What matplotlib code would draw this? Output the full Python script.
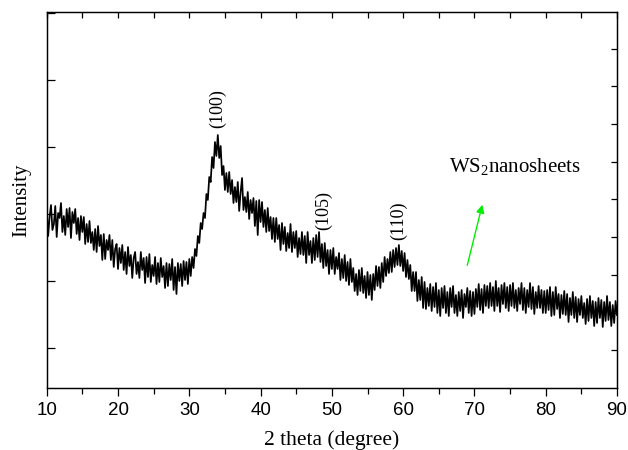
import numpy as np
import matplotlib
matplotlib.use("Agg")
import matplotlib.pyplot as plt
from matplotlib.ticker import MultipleLocator

plt.rcParams['mathtext.fontset'] = 'custom'
plt.rcParams['mathtext.rm'] = 'Liberation Serif'
plt.rcParams['mathtext.it'] = 'Liberation Serif:italic'

# 2 theta from 10 to 90 in 0.2 degree steps, intensity in a.u.
two_theta = np.linspace(10, 90, 401)
intensity = [
    205, 179, 198, 210, 185,   # 10
    191, 209, 178, 202, 197,   # 11
    212, 183, 199, 180, 206,   # 12
    188, 207, 177, 203, 192,   # 13
    206, 181, 197, 175, 199,   # 14
    183, 198, 171, 191, 173,   # 15
    194, 172, 183, 165, 186,   # 16
    163, 189, 169, 180, 155,   # 17
    181, 156, 175, 165, 180,   # 18
    155, 175, 148, 166, 171,   # 19
    146, 167, 152, 170, 145,   # 20
    163, 141, 168, 149, 160,   # 21
    137, 157, 163, 141, 153,   # 22
    137, 163, 145, 157, 132,   # 23
    158, 138, 161, 133, 150,   # 24
    139, 158, 131, 152, 133,   # 25
    157, 138, 149, 127, 152,   # 26
    129, 151, 135, 156, 125,   # 27
    148, 121, 152, 134, 151,   # 28
    129, 154, 135, 153, 131,   # 29
    156, 139, 158, 147, 166,   # 30
    159, 179, 172, 192, 186,   # 31
    202, 197, 221, 215, 238,   # 32
    233, 258, 247, 273, 259,   # 33
    280, 257, 269, 240, 249,   # 34
    225, 242, 223, 243, 221,   # 35
    235, 212, 228, 213, 233,   # 36
    204, 223, 237, 205, 218,   # 37
    203, 223, 196, 215, 202,   # 38
    217, 189, 214, 180, 215,   # 39
    193, 213, 188, 205, 183,   # 40
    207, 184, 198, 176, 197,   # 41
    173, 197, 176, 190, 165,   # 42
    192, 171, 188, 164, 182,   # 43
    167, 191, 163, 183, 167,   # 44
    184, 158, 177, 161, 183,   # 45
    160, 179, 152, 183, 160,   # 46
    174, 152, 177, 155, 180,   # 47
    158, 183, 153, 171, 147,   # 48
    172, 149, 165, 141, 165,   # 49
    146, 167, 141, 158, 146,   # 50
    162, 135, 156, 137, 160,   # 51
    134, 153, 130, 156, 133,   # 52
    147, 124, 141, 120, 145,   # 53
    124, 147, 122, 139, 117,   # 54
    143, 120, 140, 115, 141,   # 55
    125, 149, 129, 148, 127,   # 56
    152, 133, 158, 139, 156,   # 57
    142, 163, 143, 165, 148,   # 58
    167, 150, 170, 149, 164,   # 59
    144, 162, 138, 155, 136,   # 60
    150, 124, 143, 124, 143,   # 61
    114, 135, 115, 138, 107,   # 62
    133, 106, 127, 109, 131,   # 63
    104, 128, 108, 132, 102,   # 64
    125, 99, 127, 107, 129,    # 65
    102, 123, 99, 127, 108,    # 66
    129, 102, 120, 99, 123,    # 67
    104, 125, 97, 121, 108,    # 68
    127, 102, 124, 99, 123,    # 69
    101, 126, 108, 131, 105,   # 70
    126, 102, 130, 109, 129,   # 71
    107, 132, 109, 128, 104,   # 72
    134, 109, 127, 103, 130,   # 73
    111, 132, 107, 128, 104,   # 74
    130, 109, 132, 107, 125,   # 75
    104, 127, 111, 132, 105,   # 76
    127, 102, 125, 108, 132,   # 77
    106, 128, 101, 123, 107,   # 78
    129, 107, 125, 102, 124,   # 79
    102, 125, 105, 128, 99,    # 80
    123, 100, 128, 106, 121,   # 81
    97, 120, 101, 124, 100,    # 82
    121, 93, 117, 100, 123,    # 83
    97, 118, 93, 116, 100,     # 84
    119, 97, 112, 91, 116,     # 85
    94, 119, 97, 114, 89,      # 86
    113, 92, 117, 97, 115,     # 87
    88, 113, 94, 119, 95,      # 88
    113, 89, 110, 92, 114,     # 89
    100,                       # 90
]

peak_labels = ['(100)', '(105)', '(110)']
peak_pos = [34.0, 48.9, 59.3]
peak_label_base = [287, 185, 175]

serif = 'Liberation Serif'

fig = plt.figure(figsize=(6.28, 4.5), dpi=100)
ax = fig.add_axes([0.0744, 0.1378, 0.9081, 0.8355])

ax.plot(two_theta, intensity, color='black', lw=1.25)

ax.set_xlim(10, 90)
ax.set_ylim(27, 403)
ax.xaxis.set_major_locator(MultipleLocator(10))
ax.xaxis.set_minor_locator(MultipleLocator(5))
ax.yaxis.set_major_locator(MultipleLocator(67))
ax.set_yticklabels([])

ax.tick_params(axis='x', which='major', direction='out', length=6, width=0.9,
               labelsize=13.5, pad=4)
ax.tick_params(axis='x', which='minor', direction='out', length=4, width=0.9)
ax.tick_params(axis='y', which='major', direction='in', length=6, width=0.9, left=True)
for lab in ax.get_xticklabels():
    lab.set_fontfamily('Liberation Sans')

# top ticks, inward
sec = ax.secondary_xaxis('top')
sec.xaxis.set_major_locator(MultipleLocator(5))
sec.tick_params(direction='in', length=4, width=0.9, labeltop=False)
sec.spines['top'].set_visible(False)

# right axis ticks, inward, own scale
ax2 = ax.twinx()
ax2.set_ylim(0, 9.97)
ax2.set_yticks(range(1, 10))
ax2.set_yticklabels([])
ax2.tick_params(axis='y', direction='in', length=4, width=0.9)

for a in (ax, ax2):
    for s in a.spines.values():
        s.set_linewidth(0.9)

ax.set_xlabel('2 theta (degree)', fontfamily=serif, fontsize=15.5, labelpad=8)
ax.set_ylabel('Intensity', fontfamily=serif, fontsize=15, labelpad=8)

for lab, x, y in zip(peak_labels, peak_pos, peak_label_base):
    ax.text(x, y, lab, rotation=90, ha='center', va='bottom',
            fontfamily=serif, fontsize=13)

ax.text(66.4, 243, 'WS$_2$nanosheets', fontfamily=serif, fontsize=15,
        ha='left', va='baseline')
ax.annotate('', xy=(71.2, 213), xytext=(68.9, 147),
            arrowprops=dict(arrowstyle='-|>', color='#00ee00', lw=1.0,
                            mutation_scale=12))

fig.savefig('out.png', dpi=100)
